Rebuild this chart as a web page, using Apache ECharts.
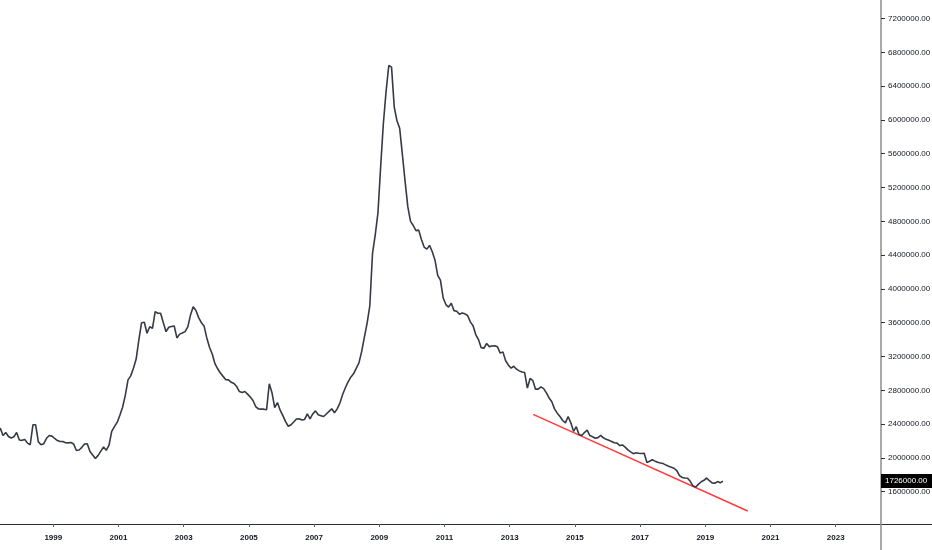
<!DOCTYPE html>
<html>
<head>
<meta charset="utf-8">
<script src="https://cdn.jsdelivr.net/npm/echarts@6/dist/echarts.min.js"></script>
<style>
html,body{margin:0;padding:0;background:#ffffff;overflow:hidden;}
#chart{width:932px;height:550px;}
</style>
</head>
<body>
<div id="chart"></div>
<script>
// ---- Data (monthly, values in thousands) ----
const START_YEAR = 1997;
const START_MONTH = 4; // April 1997
const UNIT = 1000;
const claimsThousands = [
  2330, 2350, 2266, 2301, 2254, 2236, 2250, 2301, 2212,
  2208, 2219, 2175, 2156, 2392, 2392, 2190, 2156, 2168, 2232, 2265, 2258,
  2230, 2205, 2195, 2195, 2180, 2178, 2182, 2165, 2088, 2094, 2125, 2165,
  2168, 2077, 2035, 1992, 2030, 2080, 2129, 2090, 2150, 2313, 2370, 2420,
  2505, 2600, 2740, 2924, 2971, 3060, 3170, 3400, 3600, 3605, 3475, 3553,
  3534, 3731, 3712, 3712, 3600, 3494, 3546, 3555, 3562, 3420, 3465, 3478,
  3495, 3550, 3690, 3790, 3745, 3660, 3600, 3560, 3420, 3310, 3230, 3115,
  3055, 3005, 2965, 2926, 2924, 2895, 2880, 2845, 2785, 2774, 2786, 2755,
  2720, 2680, 2608, 2580, 2578, 2577, 2570, 2877, 2770, 2595, 2655, 2565,
  2500, 2430, 2375, 2392, 2425, 2460, 2463, 2448, 2455, 2522, 2463, 2520,
  2557, 2510, 2500, 2490, 2520, 2550, 2581, 2535, 2580, 2650, 2750, 2830,
  2900, 2955, 2995, 3060, 3125, 3258, 3430, 3593, 3800, 4420, 4640, 4900,
  5450, 5960, 6340, 6645, 6625, 6152, 5990, 5900, 5590, 5270, 4970, 4800,
  4750, 4690, 4696, 4585, 4495, 4471, 4515, 4440, 4340, 4160, 4105, 3895,
  3815, 3785, 3830, 3743, 3735, 3700, 3715, 3705, 3685, 3610, 3565, 3460,
  3400, 3305, 3298, 3355, 3317, 3325, 3328, 3315, 3240, 3255, 3150, 3100,
  3062, 3085, 3050, 3030, 3016, 3010, 2826, 2940, 2915, 2814, 2814, 2840,
  2820, 2770, 2710, 2665, 2580, 2530, 2490, 2443, 2415, 2490, 2415, 2315,
  2370, 2278, 2265, 2300, 2330, 2265, 2250, 2232, 2240, 2266, 2238, 2220,
  2208, 2195, 2180, 2175, 2146, 2153, 2128, 2095, 2072, 2050, 2062, 2055,
  2052, 2055, 1945, 1960, 1978, 1962, 1950, 1940, 1933, 1915, 1902, 1890,
  1878, 1850, 1790, 1768, 1763, 1760, 1720, 1667, 1656, 1690, 1718, 1735,
  1763, 1730, 1705, 1700, 1720, 1705, 1726
];
const xTickYears = [1999, 2001, 2003, 2005, 2007, 2009, 2011, 2013, 2015, 2017, 2019, 2021, 2023];
const yTickValues = [1600000, 2000000, 2400000, 2800000, 3200000, 3600000, 4000000, 4400000,
  4800000, 5200000, 5600000, 6000000, 6400000, 6800000, 7200000];
const trendLine = [[2013.72, 2516000], [2020.30, 1372000]];
const lastValue = 1726000;

// axis extents
const X_MIN = 1997.365, X_MAX = 2024.389;
const Y_MIN = 1218000, Y_MAX = 7419000;

const seriesData = claimsThousands.map((v, i) => {
  const m = START_MONTH - 1 + i;
  const year = START_YEAR + Math.floor(m / 12);
  const month = m % 12;
  return [year + (month + 0.5) / 12, v * UNIT];
});

const chart = echarts.init(document.getElementById('chart'), null, {renderer: 'canvas', width: 932, height: 550});
const LABEL_FONT = '"Liberation Sans", Arial, sans-serif';

chart.setOption({
  animation: false,
  backgroundColor: '#ffffff',
  grid: {left: 0, right: 51, top: 0, bottom: 26, containLabel: false, outerBoundsMode: 'none'},
  xAxis: {
    type: 'value', min: X_MIN, max: X_MAX,
    axisLine: {show: true, lineStyle: {color: '#2a2e39', width: 1}},
    axisTick: {show: true, customValues: xTickYears, length: 3, lineStyle: {color: '#555a66'}},
    axisLabel: {
      customValues: xTickYears, formatter: v => String(Math.round(v)),
      margin: 10, fontSize: 8, fontWeight: 'bold', color: '#131722', fontFamily: LABEL_FONT
    },
    splitLine: {show: false}
  },
  yAxis: {
    type: 'value', position: 'right', min: Y_MIN, max: Y_MAX,
    axisLine: {show: true, lineStyle: {color: '#8c8c8c', width: 1.5}},
    axisTick: {show: true, customValues: yTickValues, length: 4, lineStyle: {color: '#333'}},
    axisLabel: {
      customValues: yTickValues, formatter: v => Number(v).toFixed(2),
      margin: 7, fontSize: 8, color: '#131722', fontFamily: LABEL_FONT
    },
    splitLine: {show: false}
  },
  series: [
    {
      name: 'Claims', type: 'line', data: seriesData, showSymbol: false,
      lineStyle: {color: '#363a45', width: 1.6}, z: 3
    },
    {
      name: 'Trend', type: 'line', data: trendLine, showSymbol: false,
      lineStyle: {color: '#ff3b3b', width: 1.5}, z: 2
    }
  ]
});

// extend axis borders into the corner and add the last-value tag on the price axis
const corner = chart.convertToPixel({gridIndex: 0}, [X_MAX, Y_MIN]);
const lastPx = chart.convertToPixel({gridIndex: 0}, [X_MAX, lastValue]);
chart.setOption({
  graphic: [
    {type: 'line', silent: true, z: 10, shape: {x1: corner[0], y1: Math.round(corner[1]) + 0.5, x2: 932, y2: Math.round(corner[1]) + 0.5},
      style: {stroke: '#2a2e39', lineWidth: 1}},
    {type: 'line', silent: true, z: 10, shape: {x1: corner[0], y1: corner[1], x2: corner[0], y2: 550},
      style: {stroke: '#8c8c8c', lineWidth: 1.5}},
    {type: 'text', silent: true, z: 20, x: lastPx[0], y: lastPx[1],
      style: {
        text: lastValue.toFixed(2), fill: '#ffffff', backgroundColor: '#000000',
        font: '8px "Liberation Sans", Arial, sans-serif',
        padding: [3, 5, 3, 4], align: 'left', verticalAlign: 'middle'
      }}
  ]
});
</script>
</body>
</html>
